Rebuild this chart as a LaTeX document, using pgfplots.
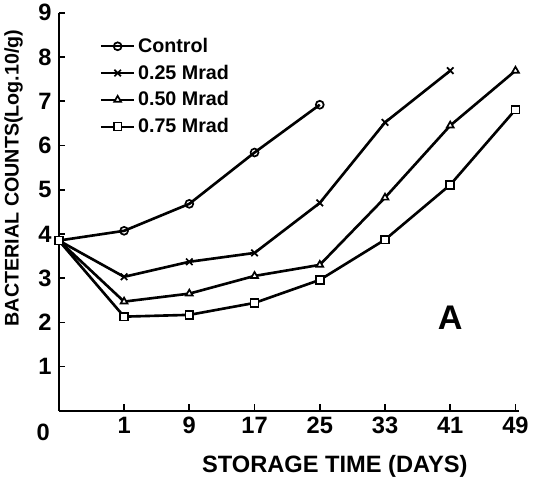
\documentclass[border=0pt]{standalone}
\usepackage{pgfplots}
\pgfplotsset{compat=1.18}
\usepackage{fontspec}
\setmainfont{Liberation Sans}

% x positions: 0=day 0, 1=day 1, 2=day 9, ... 7=day 49
\pgfplotstableread{
x y
0 3.85
1 4.07
2 4.68
3 5.84
4 6.92
}\control
\pgfplotstableread{
x y
0 3.85
1 3.03
2 3.37
3 3.57
4 4.70
5 6.52
6 7.69
}\lowdose
\pgfplotstableread{
x y
0 3.85
1 2.47
2 2.65
3 3.05
4 3.30
5 4.82
6 6.45
7 7.69
}\middose
\pgfplotstableread{
x y
0 3.85
1 2.13
2 2.17
3 2.44
4 2.96
5 3.87
6 5.11
7 6.81
}\highdose

\begin{document}
\begin{tikzpicture}
\begin{axis}[
  width=350pt, height=303pt, scale only axis,
  xmin=0, xmax=7.05, ymin=0, ymax=9,
  axis x line=bottom, axis y line=left,
  axis line style={-, line width=1.6pt},
  xtick={0,...,7}, xticklabels={,1,9,17,25,33,41,49},
  ytick={1,...,9},
  tick align=inside, major tick length=5pt,
  tick style={line width=1.3pt, black},
  ticklabel style={font=\fontsize{18}{18}\selectfont\bfseries},
  yticklabel style={xshift=-2pt},
  xticklabel style={yshift=-1pt},
  /pgf/number format/assume math mode=true,
  xlabel={STORAGE TIME (DAYS)},
  ylabel={BACTERIAL COUNTS(Log.10/g)},
  xlabel style={font=\fontsize{18}{18}\selectfont\bfseries, at={(ticklabel cs:0.6)}, yshift=-10pt},
  ylabel style={font=\fontsize{15}{15}\selectfont\bfseries, at={(ticklabel cs:0.585)}, yshift=5pt},
  clip=false,
  every axis plot/.append style={black, line width=2pt, mark size=3pt, mark options={solid, line width=1.3pt, fill=white}},
  legend style={at={(0.08,0.95)}, anchor=north west, draw=none, fill=none,
    font=\fontsize{15}{15}\selectfont\bfseries, row sep=4pt},
  legend cell align=left,
  legend image code/.code={\draw[mark repeat=2, mark phase=2, #1, line width=1.5pt]
    plot coordinates {(0cm,0cm) (0.45cm,0cm) (0.9cm,0cm)};},
]
\addplot[mark=o] table {\control};
\addplot[mark=x, mark size=3.5pt] table {\lowdose};
\addplot[mark=triangle*] table {\middose};
\addplot[mark=square*] table {\highdose};
\legend{Control, 0.25 Mrad, 0.50 Mrad, 0.75 Mrad}
\node[font=\fontsize{18}{18}\selectfont\bfseries] at (rel axis cs:0,0) [xshift=-12pt, yshift=-16pt] {0};
\node[font=\fontsize{26}{26}\selectfont\bfseries] at (axis cs:6,2.1) {A};
\end{axis}
\end{tikzpicture}
\end{document}
